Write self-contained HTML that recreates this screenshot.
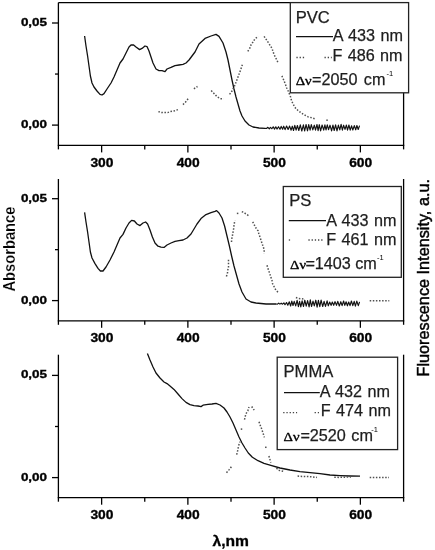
<!DOCTYPE html>
<html><head><meta charset="utf-8"><style>
html,body{margin:0;padding:0;background:#fff;}
body{width:435px;height:550px;overflow:hidden;position:relative;}
svg{position:absolute;left:0;top:0;filter:grayscale(1);}
</style></head><body>
<svg width="435" height="550" viewBox="0 0 435 550">
<line x1="58.4" y1="2.6" x2="403.6" y2="2.6" stroke="#000" stroke-width="1.3"/>
<line x1="58.4" y1="2.6" x2="58.4" y2="149.4" stroke="#000" stroke-width="1.3"/>
<line x1="57.75" y1="145.4" x2="404.25" y2="145.4" stroke="#000" stroke-width="1.3"/>
<line x1="403.6" y1="2.6" x2="403.6" y2="149.4" stroke="#000" stroke-width="1.3"/>
<line x1="101.625" y1="145.4" x2="101.625" y2="152.4" stroke="#000" stroke-width="1.3"/>
<text x="101.925" y="167.0" font-family="Liberation Sans" font-size="12.9" font-weight="bold" text-anchor="middle" textLength="23" lengthAdjust="spacingAndGlyphs" stroke="#000" stroke-width="0.35">300</text>
<line x1="187.875" y1="145.4" x2="187.875" y2="152.4" stroke="#000" stroke-width="1.3"/>
<text x="188.175" y="167.0" font-family="Liberation Sans" font-size="12.9" font-weight="bold" text-anchor="middle" textLength="23" lengthAdjust="spacingAndGlyphs" stroke="#000" stroke-width="0.35">400</text>
<line x1="274.125" y1="145.4" x2="274.125" y2="152.4" stroke="#000" stroke-width="1.3"/>
<text x="274.425" y="167.0" font-family="Liberation Sans" font-size="12.9" font-weight="bold" text-anchor="middle" textLength="23" lengthAdjust="spacingAndGlyphs" stroke="#000" stroke-width="0.35">500</text>
<line x1="360.375" y1="145.4" x2="360.375" y2="152.4" stroke="#000" stroke-width="1.3"/>
<text x="360.675" y="167.0" font-family="Liberation Sans" font-size="12.9" font-weight="bold" text-anchor="middle" textLength="23" lengthAdjust="spacingAndGlyphs" stroke="#000" stroke-width="0.35">600</text>
<line x1="144.75" y1="145.4" x2="144.75" y2="149.4" stroke="#000" stroke-width="1.3"/>
<line x1="231.0" y1="145.4" x2="231.0" y2="149.4" stroke="#000" stroke-width="1.3"/>
<line x1="317.25" y1="145.4" x2="317.25" y2="149.4" stroke="#000" stroke-width="1.3"/>
<line x1="52.0" y1="23.0" x2="58.4" y2="23.0" stroke="#000" stroke-width="1.3"/>
<line x1="52.0" y1="125.1" x2="58.4" y2="125.1" stroke="#000" stroke-width="1.3"/>
<line x1="55.0" y1="74.05" x2="58.4" y2="74.05" stroke="#000" stroke-width="1.3"/>
<text x="47.1" y="25.9" font-family="Liberation Sans" font-size="11.6" font-weight="bold" text-anchor="end" textLength="26.2" lengthAdjust="spacingAndGlyphs" stroke="#000" stroke-width="0.35">0,05</text>
<text x="47.1" y="128.0" font-family="Liberation Sans" font-size="11.6" font-weight="bold" text-anchor="end" textLength="26.2" lengthAdjust="spacingAndGlyphs" stroke="#000" stroke-width="0.35">0,00</text>
<line x1="58.4" y1="179" x2="58.4" y2="324.8" stroke="#000" stroke-width="1.3"/>
<line x1="57.75" y1="320.8" x2="404.25" y2="320.8" stroke="#000" stroke-width="1.3"/>
<line x1="403.6" y1="179" x2="403.6" y2="324.8" stroke="#000" stroke-width="1.3"/>
<line x1="101.625" y1="320.8" x2="101.625" y2="327.8" stroke="#000" stroke-width="1.3"/>
<text x="101.925" y="342.40000000000003" font-family="Liberation Sans" font-size="12.9" font-weight="bold" text-anchor="middle" textLength="23" lengthAdjust="spacingAndGlyphs" stroke="#000" stroke-width="0.35">300</text>
<line x1="187.875" y1="320.8" x2="187.875" y2="327.8" stroke="#000" stroke-width="1.3"/>
<text x="188.175" y="342.40000000000003" font-family="Liberation Sans" font-size="12.9" font-weight="bold" text-anchor="middle" textLength="23" lengthAdjust="spacingAndGlyphs" stroke="#000" stroke-width="0.35">400</text>
<line x1="274.125" y1="320.8" x2="274.125" y2="327.8" stroke="#000" stroke-width="1.3"/>
<text x="274.425" y="342.40000000000003" font-family="Liberation Sans" font-size="12.9" font-weight="bold" text-anchor="middle" textLength="23" lengthAdjust="spacingAndGlyphs" stroke="#000" stroke-width="0.35">500</text>
<line x1="360.375" y1="320.8" x2="360.375" y2="327.8" stroke="#000" stroke-width="1.3"/>
<text x="360.675" y="342.40000000000003" font-family="Liberation Sans" font-size="12.9" font-weight="bold" text-anchor="middle" textLength="23" lengthAdjust="spacingAndGlyphs" stroke="#000" stroke-width="0.35">600</text>
<line x1="144.75" y1="320.8" x2="144.75" y2="324.8" stroke="#000" stroke-width="1.3"/>
<line x1="231.0" y1="320.8" x2="231.0" y2="324.8" stroke="#000" stroke-width="1.3"/>
<line x1="317.25" y1="320.8" x2="317.25" y2="324.8" stroke="#000" stroke-width="1.3"/>
<line x1="52.0" y1="198.7" x2="58.4" y2="198.7" stroke="#000" stroke-width="1.3"/>
<line x1="52.0" y1="300.6" x2="58.4" y2="300.6" stroke="#000" stroke-width="1.3"/>
<line x1="55.0" y1="249.65" x2="58.4" y2="249.65" stroke="#000" stroke-width="1.3"/>
<text x="47.1" y="201.6" font-family="Liberation Sans" font-size="11.6" font-weight="bold" text-anchor="end" textLength="26.2" lengthAdjust="spacingAndGlyphs" stroke="#000" stroke-width="0.35">0,05</text>
<text x="47.1" y="303.5" font-family="Liberation Sans" font-size="11.6" font-weight="bold" text-anchor="end" textLength="26.2" lengthAdjust="spacingAndGlyphs" stroke="#000" stroke-width="0.35">0,00</text>
<line x1="58.4" y1="354.7" x2="58.4" y2="501.7" stroke="#000" stroke-width="1.3"/>
<line x1="57.75" y1="497.7" x2="404.25" y2="497.7" stroke="#000" stroke-width="1.3"/>
<line x1="403.6" y1="354.7" x2="403.6" y2="501.7" stroke="#000" stroke-width="1.3"/>
<line x1="101.625" y1="497.7" x2="101.625" y2="504.7" stroke="#000" stroke-width="1.3"/>
<text x="101.925" y="519.3" font-family="Liberation Sans" font-size="12.9" font-weight="bold" text-anchor="middle" textLength="23" lengthAdjust="spacingAndGlyphs" stroke="#000" stroke-width="0.35">300</text>
<line x1="187.875" y1="497.7" x2="187.875" y2="504.7" stroke="#000" stroke-width="1.3"/>
<text x="188.175" y="519.3" font-family="Liberation Sans" font-size="12.9" font-weight="bold" text-anchor="middle" textLength="23" lengthAdjust="spacingAndGlyphs" stroke="#000" stroke-width="0.35">400</text>
<line x1="274.125" y1="497.7" x2="274.125" y2="504.7" stroke="#000" stroke-width="1.3"/>
<text x="274.425" y="519.3" font-family="Liberation Sans" font-size="12.9" font-weight="bold" text-anchor="middle" textLength="23" lengthAdjust="spacingAndGlyphs" stroke="#000" stroke-width="0.35">500</text>
<line x1="360.375" y1="497.7" x2="360.375" y2="504.7" stroke="#000" stroke-width="1.3"/>
<text x="360.675" y="519.3" font-family="Liberation Sans" font-size="12.9" font-weight="bold" text-anchor="middle" textLength="23" lengthAdjust="spacingAndGlyphs" stroke="#000" stroke-width="0.35">600</text>
<line x1="144.75" y1="497.7" x2="144.75" y2="501.7" stroke="#000" stroke-width="1.3"/>
<line x1="231.0" y1="497.7" x2="231.0" y2="501.7" stroke="#000" stroke-width="1.3"/>
<line x1="317.25" y1="497.7" x2="317.25" y2="501.7" stroke="#000" stroke-width="1.3"/>
<line x1="52.0" y1="375.4" x2="58.4" y2="375.4" stroke="#000" stroke-width="1.3"/>
<line x1="52.0" y1="477.6" x2="58.4" y2="477.6" stroke="#000" stroke-width="1.3"/>
<line x1="55.0" y1="426.5" x2="58.4" y2="426.5" stroke="#000" stroke-width="1.3"/>
<text x="47.1" y="378.29999999999995" font-family="Liberation Sans" font-size="11.6" font-weight="bold" text-anchor="end" textLength="26.2" lengthAdjust="spacingAndGlyphs" stroke="#000" stroke-width="0.35">0,05</text>
<text x="47.1" y="480.5" font-family="Liberation Sans" font-size="11.6" font-weight="bold" text-anchor="end" textLength="26.2" lengthAdjust="spacingAndGlyphs" stroke="#000" stroke-width="0.35">0,00</text>
<polyline points="84.6,36.0 86.0,46.0 87.6,56.0 89.0,66.0 90.4,76.0 92.0,83.0 94.0,87.0 97.0,91.0 100.0,94.4 102.0,95.0 104.0,93.6 107.0,89.0 111.0,83.0 114.0,77.0 117.0,70.0 120.0,63.0 123.0,59.0 126.0,53.0 129.0,47.0 131.0,45.0 133.6,45.0 136.0,47.0 139.6,49.6 142.0,48.4 145.0,46.0 147.0,46.6 149.0,51.0 151.0,57.0 153.0,63.0 156.0,69.0 159.0,70.6 162.0,70.6 165.0,71.6 167.0,69.0 171.0,67.4 175.0,65.6 179.0,65.0 183.0,64.4 186.0,63.0 189.0,60.0 192.0,56.0 195.0,52.0 199.0,44.0 205.0,38.4 211.0,36.0 216.0,34.4 219.0,36.4 223.0,43.0 226.0,52.0 228.0,60.0 230.0,70.0 232.0,80.0 234.0,89.0 236.0,97.0 238.0,104.0 240.0,111.0 242.0,116.0 245.0,121.0 249.0,125.0 253.0,127.0 259.0,128.0 265.0,128.4" fill="none" stroke="#111" stroke-width="1.3" stroke-linejoin="round"/>
<polyline points="84.6,212.4 86.0,222.0 87.6,232.0 89.0,242.0 90.4,252.0 92.0,258.0 95.0,263.6 98.0,268.4 100.4,271.0 103.0,271.0 106.0,267.0 110.0,260.0 114.0,252.0 117.0,245.0 120.0,238.0 123.0,234.4 126.0,228.0 129.0,223.0 131.6,220.4 134.4,221.0 137.0,224.0 140.0,225.6 143.0,223.0 145.6,222.0 147.6,224.0 150.0,230.0 152.4,237.0 155.0,243.0 158.0,246.2 161.0,247.2 164.0,247.4 167.0,245.0 171.0,243.0 175.0,241.4 179.0,240.6 183.0,240.0 187.0,238.0 191.0,234.0 194.0,229.0 197.0,224.0 201.0,218.6 206.0,214.6 211.0,212.6 215.0,211.4 216.6,210.6 219.0,213.0 222.0,218.0 224.6,226.0 227.0,236.0 229.4,246.0 231.6,256.0 234.0,266.0 236.5,275.0 239.0,284.0 242.0,292.0 246.0,299.0 251.0,302.0 256.0,303.0 266.0,304.0 276.0,304.0" fill="none" stroke="#111" stroke-width="1.3" stroke-linejoin="round"/>
<polyline points="147.4,353.4 150.0,360.0 153.0,367.0 156.0,373.0 160.0,378.0 164.0,382.0 167.0,383.6 170.0,386.0 174.0,389.4 178.0,394.0 182.0,398.6 186.0,402.4 190.0,404.6 194.0,405.6 198.0,406.0 201.0,406.6 203.0,405.2 208.0,404.4 212.0,404.0 216.0,403.4 220.0,405.0 224.0,408.0 227.0,412.0 230.0,417.0 233.0,423.0 236.0,430.0 239.0,437.0 242.0,443.0 245.0,448.0 248.3,453.0 252.4,457.2 258.0,460.7 264.0,463.4 270.0,465.2 280.0,468.0 290.0,470.0 300.0,471.6 310.0,472.6 320.0,473.6 330.0,475.0 340.0,475.6 350.0,476.0 360.0,476.2" fill="none" stroke="#111" stroke-width="1.3" stroke-linejoin="round"/>
<polyline points="265.0,128.4 266.5,128.5 267.9,127.3 269.3,128.8 270.4,127.4 271.9,128.7 273.2,126.8 274.5,129.1 275.8,126.8 277.0,129.1 278.5,126.7 280.0,129.3 281.2,126.4 282.6,129.2 283.7,126.2 285.1,129.6 286.6,126.1 288.1,129.5 289.6,126.1 291.1,130.2 292.3,126.2 293.5,130.5 294.8,125.4 296.1,130.2 297.4,125.5 298.8,130.5 300.3,124.9 301.8,131.0 303.4,124.9 304.6,131.0 306.1,124.5 307.5,130.8 308.7,124.6 310.1,130.2 311.3,124.6 312.8,129.9 314.3,125.2 315.5,130.2 317.0,124.5 318.1,130.6 319.3,124.7 320.6,130.9 322.1,125.0 323.7,130.1 324.9,124.9 326.0,130.0 327.3,124.8 328.5,129.7 330.0,125.2 331.6,130.9 332.9,125.0 334.2,130.5 335.6,124.9 337.0,130.9 338.4,125.1 339.8,129.9 341.1,124.4 342.4,130.2 343.6,125.2 345.0,129.4 346.4,125.0 347.5,130.1 348.9,125.0 350.2,130.1 351.6,125.8 352.8,130.0 354.3,125.6 355.7,129.8 356.9,125.5 358.2,129.5 359.6,125.6" fill="none" stroke="#111" stroke-width="1.15" stroke-linejoin="round"/>
<polyline points="276.0,304.0 277.5,304.1 278.7,303.1 279.9,304.1 281.2,303.2 282.5,304.2 283.9,302.9 285.0,304.7 286.5,302.5 287.8,305.2 289.3,301.8 290.6,306.0 291.8,301.1 293.0,305.5 294.2,301.4 295.7,305.9 297.1,300.4 298.4,306.7 299.6,301.3 300.8,306.9 302.1,300.9 303.5,306.5 304.8,300.2 306.2,306.2 307.6,300.6 309.1,306.9 310.3,299.9 311.5,306.5 313.0,301.1 314.3,305.9 315.8,300.2 317.1,307.2 318.4,300.3 319.8,306.7 321.1,300.1 322.7,306.5 324.1,301.4 325.5,306.4 327.1,300.8 328.3,305.8 329.7,302.0 331.1,305.4 332.3,302.0 333.7,305.3 335.0,301.6 336.5,305.3 337.8,301.4 339.3,306.0 340.8,301.7 342.1,305.6 343.6,301.0 344.8,305.4 346.1,301.8 347.4,305.8 348.7,302.0 350.0,305.6 351.4,301.0 352.8,305.7 354.2,301.3 355.4,306.1 356.8,301.1 358.3,305.6 359.6,301.9" fill="none" stroke="#111" stroke-width="1.15" stroke-linejoin="round"/>
<polyline points="158.4,111.6 161.4,112.6 164.4,112.6 167.6,112.6 170.6,111.6 174.0,111.0 178.0,109.6" fill="none" stroke="#505050" stroke-width="1.5" stroke-dasharray="1.5 1.6"/>
<polyline points="183.0,104.6 186.0,101.6 188.5,98.2" fill="none" stroke="#505050" stroke-width="1.5" stroke-dasharray="1.5 1.6"/>
<polyline points="193.9,88.8 197.5,86.5" fill="none" stroke="#505050" stroke-width="1.5" stroke-dasharray="1.5 1.6"/>
<polyline points="211.2,90.6 214.2,93.7 217.2,96.8 220.4,98.7 223.6,98.7" fill="none" stroke="#505050" stroke-width="1.5" stroke-dasharray="1.5 1.6"/>
<polyline points="229.6,94.4 232.0,91.0 235.0,85.0 238.0,77.0 240.6,70.0 242.8,63.3" fill="none" stroke="#505050" stroke-width="1.5" stroke-dasharray="1.5 1.6"/>
<polyline points="247.8,51.3 249.8,48.2 250.9,45.2 252.9,42.1 255.0,38.7 258.3,36.3" fill="none" stroke="#505050" stroke-width="1.5" stroke-dasharray="1.5 1.6"/>
<polyline points="264.1,36.3 268.0,42.1 272.0,48.4 274.0,54.4 277.0,60.3 278.4,63.6" fill="none" stroke="#505050" stroke-width="1.5" stroke-dasharray="1.5 1.6"/>
<polyline points="281.9,75.9 284.0,80.7 285.6,84.8 286.7,88.0 288.3,91.2 290.7,97.2 291.6,100.9 293.2,104.1 294.8,107.3 298.0,110.5 301.2,112.9 304.4,114.9 307.6,116.6 311.7,117.8 315.2,118.9" fill="none" stroke="#505050" stroke-width="1.5" stroke-dasharray="1.5 1.6"/>
<rect x="326.30" y="119.45" width="1.5" height="1.5" fill="#505050"/>
<polyline points="226.4,276.4 227.4,273.6 227.7,270.4 228.5,267.4 228.5,264.4 228.5,259.5" fill="none" stroke="#505050" stroke-width="1.5" stroke-dasharray="1.5 1.6"/>
<polyline points="231.5,242.0 231.7,239.1 232.4,236.0 232.8,233.1 233.5,230.0 233.8,226.9 234.8,220.5" fill="none" stroke="#505050" stroke-width="1.5" stroke-dasharray="1.5 1.6"/>
<rect x="236.85" y="212.65" width="1.5" height="1.5" fill="#505050"/>
<polyline points="241.8,211.7 243.5,212.2 245.7,213.8 249.0,215.9" fill="none" stroke="#505050" stroke-width="1.5" stroke-dasharray="1.5 1.6"/>
<polyline points="252.7,221.8 255.8,227.8 258.1,230.9 258.9,234.0 260.0,237.1 261.0,240.2 262.0,243.3 263.1,246.4 264.1,249.5 264.3,253.6" fill="none" stroke="#505050" stroke-width="1.5" stroke-dasharray="1.5 1.6"/>
<polyline points="267.0,265.3 268.0,268.5 269.0,271.5 270.0,274.5 271.0,277.5 272.0,280.5 272.5,283.5 274.0,286.5 276.0,290.5 279.2,293.0" fill="none" stroke="#505050" stroke-width="1.5" stroke-dasharray="1.5 1.6"/>
<polyline points="295.9,297.5 298.6,298.4 301.4,298.8 304.5,299.0" fill="none" stroke="#505050" stroke-width="1.5" stroke-dasharray="1.5 1.6"/>
<polyline points="369.7,300.7 389.3,300.7" fill="none" stroke="#505050" stroke-width="1.5" stroke-dasharray="1.5 1.6"/>
<polyline points="226.5,472.7 229.4,469.4 231.9,466.0" fill="none" stroke="#505050" stroke-width="1.5" stroke-dasharray="1.5 1.6"/>
<polyline points="236.7,454.6 237.6,450.9 238.6,445.8 239.9,441.8" fill="none" stroke="#505050" stroke-width="1.5" stroke-dasharray="1.5 1.6"/>
<rect x="240.75" y="428.35" width="1.5" height="1.5" fill="#505050"/>
<polyline points="244.5,419.6 245.2,416.7 245.9,413.8 247.8,410.9 249.0,407.0" fill="none" stroke="#505050" stroke-width="1.5" stroke-dasharray="1.5 1.6"/>
<polyline points="251.7,406.5 254.2,410.2" fill="none" stroke="#505050" stroke-width="1.5" stroke-dasharray="1.5 1.6"/>
<polyline points="259.0,421.8 260.0,424.7 261.2,427.6 262.2,430.6 263.4,434.2 264.3,437.4" fill="none" stroke="#505050" stroke-width="1.5" stroke-dasharray="1.5 1.6"/>
<rect x="265.05" y="446.55" width="1.5" height="1.5" fill="#505050"/>
<polyline points="268.9,456.0 269.9,459.4 270.8,462.6" fill="none" stroke="#505050" stroke-width="1.5" stroke-dasharray="1.5 1.6"/>
<polyline points="276.5,468.1 278.6,470.3 283.2,471.3" fill="none" stroke="#505050" stroke-width="1.5" stroke-dasharray="1.5 1.6"/>
<polyline points="297.6,476.0 302.0,476.4 305.0,476.4 309.0,476.6 313.0,477.0 317.0,477.4" fill="none" stroke="#505050" stroke-width="1.5" stroke-dasharray="1.5 1.6"/>
<polyline points="334.3,477.2 339.0,477.4 344.0,477.2 351.0,477.0" fill="none" stroke="#505050" stroke-width="1.5" stroke-dasharray="1.5 1.6"/>
<polyline points="369.7,477.5 389.0,477.5" fill="none" stroke="#505050" stroke-width="1.5" stroke-dasharray="1.5 1.6"/>
<rect x="290.3" y="2.6" width="118.3" height="90.2" fill="#fff" stroke="#222" stroke-width="1.3"/>
<text x="295.7" y="22.6" font-family="Liberation Sans" font-size="16.6" font-weight="normal" text-anchor="start" fill="#1e1e1e" stroke="#1e1e1e" stroke-width="0.25">PVC</text>
<line x1="296" y1="36.6" x2="333" y2="36.6" stroke="#111" stroke-width="1.3"/>
<text x="332.8" y="41.3" font-family="Liberation Sans" font-size="16.2" font-weight="normal" text-anchor="start" word-spacing="0.9" fill="#1e1e1e" stroke="#1e1e1e" stroke-width="0.25">A 433 nm</text>
<line x1="296.4" y1="57.5" x2="306" y2="57.5" stroke="#444" stroke-width="1.3" stroke-dasharray="1.3 1.9"/>
<line x1="324.5" y1="57.5" x2="331.8" y2="57.5" stroke="#444" stroke-width="1.3" stroke-dasharray="1.3 1.9"/>
<text x="332.4" y="60.9" font-family="Liberation Sans" font-size="16.2" font-weight="normal" text-anchor="start" word-spacing="0.9" fill="#1e1e1e" stroke="#1e1e1e" stroke-width="0.25">F 486 nm</text>
<text x="295.7" y="84.6" font-family="Liberation Serif" font-size="13" textLength="16" lengthAdjust="spacingAndGlyphs" stroke="#000" stroke-width="0.35">Δν</text>
<text x="312.0" y="84.8" font-family="Liberation Sans" font-size="16.2" font-weight="normal" text-anchor="start" fill="#1e1e1e" stroke="#1e1e1e" stroke-width="0.25">=2050</text>
<text x="363.8" y="84.8" font-family="Liberation Sans" font-size="16.2" font-weight="normal" text-anchor="start" fill="#1e1e1e" stroke="#1e1e1e" stroke-width="0.25">cm</text>
<text x="386.4" y="75.8" font-family="Liberation Sans" font-size="7.5" font-weight="normal" text-anchor="start" >-1</text>
<rect x="283.3" y="186.5" width="118.0" height="90.8" fill="#fff" stroke="#222" stroke-width="1.3"/>
<text x="289.3" y="205.5" font-family="Liberation Sans" font-size="16.6" font-weight="normal" text-anchor="start" fill="#1e1e1e" stroke="#1e1e1e" stroke-width="0.25">PS</text>
<line x1="288.8" y1="220.7" x2="326" y2="220.7" stroke="#111" stroke-width="1.3"/>
<text x="326.2" y="225.7" font-family="Liberation Sans" font-size="16.2" font-weight="normal" text-anchor="start" word-spacing="0.9" fill="#1e1e1e" stroke="#1e1e1e" stroke-width="0.25">A 433 nm</text>
<line x1="288.8" y1="240" x2="290.1" y2="240" stroke="#444" stroke-width="1.3" stroke-dasharray="1.3 1.9"/>
<line x1="308.4" y1="240" x2="324" y2="240" stroke="#444" stroke-width="1.3" stroke-dasharray="1.3 1.9"/>
<text x="326.2" y="245.2" font-family="Liberation Sans" font-size="16.2" font-weight="normal" text-anchor="start" word-spacing="0.9" fill="#1e1e1e" stroke="#1e1e1e" stroke-width="0.25">F 461 nm</text>
<text x="290.1" y="269" font-family="Liberation Serif" font-size="13" textLength="16" lengthAdjust="spacingAndGlyphs" stroke="#000" stroke-width="0.35">Δν</text>
<text x="305.4" y="269.2" font-family="Liberation Sans" font-size="16.2" font-weight="normal" text-anchor="start" fill="#1e1e1e" stroke="#1e1e1e" stroke-width="0.25">=1403</text>
<text x="355.2" y="269.2" font-family="Liberation Sans" font-size="16.2" font-weight="normal" text-anchor="start" fill="#1e1e1e" stroke="#1e1e1e" stroke-width="0.25">cm</text>
<text x="377" y="260.2" font-family="Liberation Sans" font-size="7.5" font-weight="normal" text-anchor="start" >-1</text>
<rect x="277.2" y="357.2" width="120.4" height="92.4" fill="#fff" stroke="#222" stroke-width="1.3"/>
<text x="283.5" y="377" font-family="Liberation Sans" font-size="16.6" font-weight="normal" text-anchor="start" fill="#1e1e1e" stroke="#1e1e1e" stroke-width="0.25">PMMA</text>
<line x1="284" y1="392.7" x2="319.8" y2="392.7" stroke="#111" stroke-width="1.3"/>
<text x="319.8" y="397.4" font-family="Liberation Sans" font-size="16.2" font-weight="normal" text-anchor="start" word-spacing="0.9" fill="#1e1e1e" stroke="#1e1e1e" stroke-width="0.25">A 432 nm</text>
<line x1="283.2" y1="412.6" x2="297.1" y2="412.6" stroke="#444" stroke-width="1.3" stroke-dasharray="1.3 1.9"/>
<line x1="314.6" y1="412.6" x2="319" y2="412.6" stroke="#444" stroke-width="1.3" stroke-dasharray="1.3 1.9"/>
<text x="320.8" y="416" font-family="Liberation Sans" font-size="16.2" font-weight="normal" text-anchor="start" word-spacing="0.9" fill="#1e1e1e" stroke="#1e1e1e" stroke-width="0.25">F 474 nm</text>
<text x="283.5" y="440.6" font-family="Liberation Serif" font-size="13" textLength="16" lengthAdjust="spacingAndGlyphs" stroke="#000" stroke-width="0.35">Δν</text>
<text x="300.4" y="440.8" font-family="Liberation Sans" font-size="16.2" font-weight="normal" text-anchor="start" fill="#1e1e1e" stroke="#1e1e1e" stroke-width="0.25">=2520</text>
<text x="351.3" y="440.8" font-family="Liberation Sans" font-size="16.2" font-weight="normal" text-anchor="start" fill="#1e1e1e" stroke="#1e1e1e" stroke-width="0.25">cm</text>
<text x="371.2" y="431.8" font-family="Liberation Sans" font-size="7.5" font-weight="normal" text-anchor="start" >-1</text>
<text transform="translate(15.2,291.6) rotate(-90)" font-family="Liberation Sans" font-size="16.5" font-weight="bold" textLength="85" lengthAdjust="spacingAndGlyphs" stroke="#fff" stroke-width="0.2">Absorbance</text>
<text transform="translate(428.5,376.5) rotate(-90)" font-family="Liberation Sans" font-size="16.25" stroke="#000" stroke-width="0.45">Fluorescence Intensity, a.u.</text>
<text x="230.7" y="545.7" font-family="Liberation Sans" font-size="14" font-weight="bold" text-anchor="middle" textLength="36.5" lengthAdjust="spacingAndGlyphs" stroke="#000" stroke-width="0.3">λ,nm</text>
</svg>
</body></html>
